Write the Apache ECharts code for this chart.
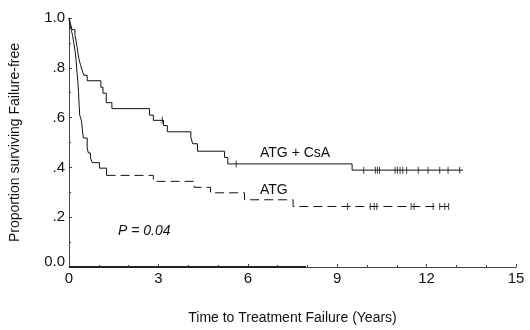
<!DOCTYPE html>
<html><head><meta charset="utf-8">
<script src="https://cdn.jsdelivr.net/npm/echarts@6/dist/echarts.min.js"></script>
<style>html,body{margin:0;padding:0;background:#fff}#c{width:530px;height:330px}</style>
</head><body><div id="c"></div>
<script>
// ATG + CsA (solid)
const csaTimes = [0, 0.05, 0.1, 0.2, 0.24, 0.27, 0.3, 0.33, 0.38, 0.44, 0.5, 0.61, 1.07, 1.14, 1.25, 1.44, 2.7, 2.83, 3.17, 3.3, 4.09, 4.15, 4.31, 5.22, 5.33, 9.5, 13.22];
const csaSurv  = [1.0, 0.977, 0.953, 0.93, 0.907, 0.884, 0.86, 0.837, 0.814, 0.79, 0.77, 0.748, 0.722, 0.698, 0.66, 0.636, 0.61, 0.589, 0.568, 0.543, 0.52, 0.495, 0.465, 0.44, 0.414, 0.389, 0.389];
const csaCensorTimes = [3.13, 5.61, 9.89, 10.28, 10.35, 10.42, 10.94, 11.02, 11.11, 11.2, 11.33, 11.72, 12.05, 12.44, 12.72, 13.11];
// ATG (dashed)
const atgTimes = [0, 0.03, 0.08, 0.12, 0.16, 0.2, 0.24, 0.27, 0.3, 0.32, 0.34, 0.36, 0.42, 0.45, 0.48, 0.61, 0.65, 0.72, 0.78, 1.02, 1.26, 2.83, 4.2, 4.75, 5.89, 7.52, 12.83];
const atgSurv  = [1.0, 0.97, 0.95, 0.93, 0.9, 0.87, 0.83, 0.78, 0.74, 0.7, 0.65, 0.61, 0.585, 0.55, 0.518, 0.478, 0.458, 0.438, 0.419, 0.397, 0.368, 0.344, 0.32, 0.298, 0.27, 0.243, 0.243];
const atgCensorTimes = [9.35, 10.11, 10.24, 10.33, 11.48, 11.58, 12.22, 12.44, 12.61, 12.74];
const baselineTimes = [0, 7.95];
const baselineSurv = [0, 0];
const seriesNames = ['ATG + CsA', 'ATG'];
const pValueText = 'P = 0.04';
const xTicks = [0, 3, 6, 9, 12, 15];
const yTicks = [0, 0.2, 0.4, 0.6, 0.8, 1.0];

function pairs(t, s) { return t.map((v, i) => [v, s[i]]); }
function censorPts(times, t, s) {
  return times.map(c => { let v = s[0]; for (let i = 0; i < t.length; i++) { if (t[i] <= c) v = s[i]; } return [c, v]; });
}
const splitIdx = 20;
const atgAll = pairs(atgTimes, atgSurv);
const col = '#111';
const font = 'Liberation Sans, Arial, sans-serif';

const chart = echarts.init(document.getElementById('c'), null, {renderer: 'canvas'});
chart.setOption({
  animation: false,
  backgroundColor: '#fff',
  grid: {left: 66, right: 14, top: 18, bottom: 59},
  xAxis: {
    type: 'value', min: xTicks[0], max: xTicks[xTicks.length - 1], interval: 3,
    name: 'Time to Treatment Failure (Years)', nameLocation: 'middle', nameGap: 44,
    nameTextStyle: {fontFamily: font, fontSize: 14, color: '#111'},
    axisLine: {show: true, lineStyle: {color: '#444', width: 1}},
    axisTick: {show: true, inside: true, length: 3, lineStyle: {color: '#444'}},
    minorTick: {show: true, splitNumber: 3, length: 2, lineStyle: {color: '#444'}},
    axisLabel: {fontFamily: font, fontSize: 15, color: '#111', margin: 4},
    splitLine: {show: false}
  },
  yAxis: {
    type: 'value', min: 0, max: 1, interval: 0.2,
    name: 'Proportion surviving Failure-free', nameLocation: 'middle', nameGap: 47,
    nameTextStyle: {fontFamily: font, fontSize: 14, color: '#111'},
    axisLine: {show: true, lineStyle: {color: '#444', width: 1}},
    axisTick: {show: true, inside: true, length: 3, lineStyle: {color: '#444'}},
    minorTick: {show: true, splitNumber: 2, length: 2, lineStyle: {color: '#444'}},
    axisLabel: {fontFamily: font, fontSize: 15, color: '#111', margin: 4,
      formatter: v => {
        if (Math.abs(v) < 1e-9) return '{z|0.0}';
        if (Math.abs(v - 1) < 1e-9) return '1.0';
        return '.' + Math.round(v * 10);
      },
      rich: {z: {fontFamily: font, fontSize: 15, color: '#111', padding: [0, 0, 10, 0]}}
    },
    splitLine: {show: false}
  },
  series: [
    {name: seriesNames[0], type: 'line', step: 'end', showSymbol: false, data: pairs(csaTimes, csaSurv),
     lineStyle: {color: col, width: 1}},
    {name: seriesNames[1] + ' early', type: 'line', step: 'end', showSymbol: false, data: atgAll.slice(0, splitIdx + 1),
     lineStyle: {color: col, width: 1}},
    {name: seriesNames[1], type: 'line', step: 'end', showSymbol: false, data: atgAll.slice(splitIdx),
     lineStyle: {color: col, width: 1, type: [9, 5]}},
    {name: 'baseline', type: 'line', showSymbol: false, data: pairs(baselineTimes, baselineSurv),
     lineStyle: {color: '#222', width: 2}},
    {name: 'csa censored', type: 'scatter', symbol: 'rect', symbolSize: [1, 7], itemStyle: {color: col},
     data: censorPts(csaCensorTimes, csaTimes, csaSurv)},
    {name: 'atg censored', type: 'scatter', symbol: 'rect', symbolSize: [1, 7], itemStyle: {color: col},
     data: censorPts(atgCensorTimes, atgTimes, atgSurv)}
  ],
  graphic: [
    {type: 'text', left: 260, top: 146, style: {text: seriesNames[0], font: '14px ' + font, fill: '#111'}},
    {type: 'text', left: 260, top: 183, style: {text: seriesNames[1], font: '14px ' + font, fill: '#111'}},
    {type: 'text', left: 118, top: 224, style: {text: pValueText, font: 'italic 14px ' + font, fill: '#111'}}
  ]
});
</script></body></html>
